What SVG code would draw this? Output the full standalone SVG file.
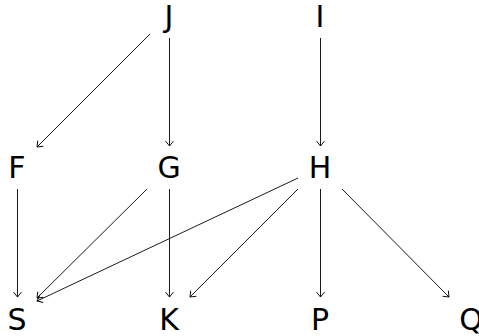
<svg xmlns="http://www.w3.org/2000/svg" width="479" height="336" viewBox="0 0 479 336">
<style>
.n text{font-family:"DejaVu Sans",sans-serif;font-size:30px;fill:#000;text-anchor:middle}
.e line{stroke:#000;stroke-width:0.9;fill:none;marker-end:url(#ah)}
</style>
<defs>
<marker id="ah" markerUnits="userSpaceOnUse" markerWidth="12" markerHeight="12" viewBox="-6 -6 12 12" refX="0" refY="0" orient="auto">
<path d="M-5,-4 L0,0 L-5,4" fill="none" stroke="#000" stroke-width="0.9"/>
</marker>
</defs>
<rect width="479" height="336" fill="#fff"/>
<g class="e" id="edges">
<line x1="150" y1="34" x2="37" y2="147"/>
<line x1="169.5" y1="38" x2="169.5" y2="146"/>
<line x1="320.5" y1="38" x2="320.5" y2="146"/>
<line x1="17.5" y1="189" x2="17.5" y2="297"/>
<line x1="147" y1="189" x2="37" y2="298"/>
<line x1="169.5" y1="189" x2="169.5" y2="297"/>
<line x1="298" y1="178" x2="37" y2="301"/>
<line x1="298" y1="189" x2="190" y2="297"/>
<line x1="320.5" y1="189" x2="320.5" y2="297"/>
<line x1="342" y1="189" x2="449" y2="297"/>
</g>
<g class="n" id="J"><text x="169" y="27">J</text></g>
<g class="n" id="I"><text x="320" y="27">I</text></g>
<g class="n" id="F"><text x="17" y="178">F</text></g>
<g class="n" id="G"><text x="169" y="178">G</text></g>
<g class="n" id="H"><text x="320" y="178">H</text></g>
<g class="n" id="S"><text x="17" y="330">S</text></g>
<g class="n" id="K"><text x="169" y="330">K</text></g>
<g class="n" id="P"><text x="320" y="330">P</text></g>
<g class="n" id="Q"><text x="471" y="330">Q</text></g>
</svg>
